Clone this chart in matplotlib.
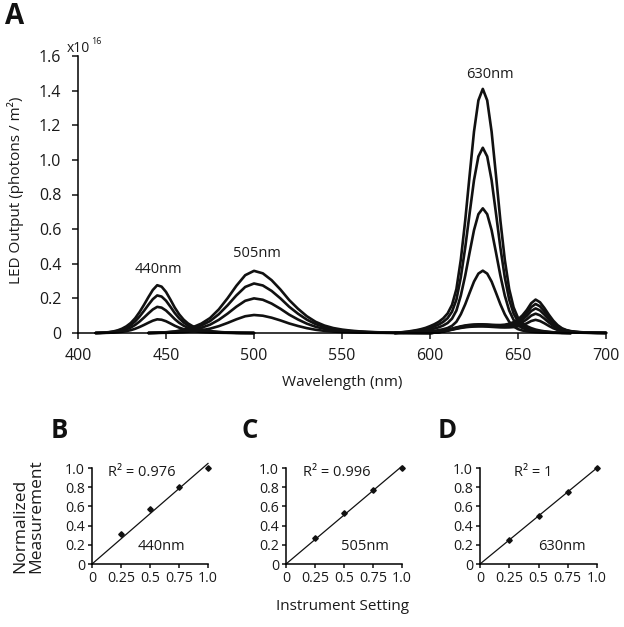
import numpy as np
import matplotlib
matplotlib.use("Agg")
import matplotlib.pyplot as plt

plt.rcParams['font.family'] = ['Open Sans', 'DejaVu Sans']

# ---------------- data: panel A (spectra, units of 1e16 photons/m^2) ----------------
wl_440 = np.arange(410, 500.01, 2.5)
shape_440 = [0.0, 0.004, 0.009, 0.018, 0.032, 0.055, 0.09, 0.14, 0.21, 0.31, 0.44,
             0.59, 0.75, 0.90, 1.0, 0.97, 0.86, 0.70, 0.53, 0.39, 0.28, 0.20, 0.145,
             0.105, 0.077, 0.056, 0.041, 0.030, 0.022, 0.016, 0.011, 0.008, 0.005,
             0.003, 0.002, 0.001, 0.0]
amp_440 = [0.276, 0.217, 0.151, 0.079]

wl_505 = np.arange(440, 600.01, 5)
shape_505 = [0.0, 0.005, 0.012, 0.025, 0.05, 0.09, 0.15, 0.24, 0.38, 0.56, 0.76, 0.93,
             1.0, 0.96, 0.85, 0.70, 0.53, 0.39, 0.27, 0.18, 0.12, 0.08, 0.055, 0.038,
             0.026, 0.018, 0.012, 0.008, 0.005, 0.003, 0.002, 0.001, 0.0]
amp_505 = [0.359, 0.286, 0.200, 0.104]

wl_630 = np.arange(580, 680.01, 2.5)
shape_630 = [0.0, 0.002, 0.004, 0.006, 0.009, 0.012, 0.016, 0.021, 0.028, 0.036, 0.046,
             0.06, 0.08, 0.115, 0.18, 0.30, 0.46, 0.645, 0.825, 0.953, 1.0, 0.953,
             0.825, 0.645, 0.46, 0.30, 0.18, 0.105, 0.062, 0.04, 0.028, 0.02, 0.014,
             0.01, 0.007, 0.005, 0.003, 0.002, 0.001, 0.0005, 0.0]
amp_630 = [1.41, 1.07, 0.72, 0.36]

wl_red = np.arange(600, 700.01, 2.5)
shape_660 = [0, 0, 0, 0, 0, 0, 0, 0, 0, 0, 0, 0, 0.0, 0.003, 0.008, 0.018, 0.035,
             0.065, 0.115, 0.19, 0.30, 0.45, 0.64, 0.87, 1.0, 0.93, 0.76, 0.56, 0.38,
             0.24, 0.145, 0.09, 0.058, 0.04, 0.028, 0.02, 0.014, 0.01, 0.007, 0.005,
             0.003]
shape_bump = [0.0, 0.05, 0.12, 0.22, 0.35, 0.5, 0.64, 0.77, 0.87, 0.94, 0.98, 1.0, 1.0,
              0.97, 0.92, 0.86, 0.79, 0.72, 0.64, 0.55, 0.46, 0.37, 0.29, 0.22, 0.16,
              0.11, 0.075, 0.05, 0.03, 0.018, 0.01, 0.006, 0.003, 0, 0, 0, 0, 0, 0, 0, 0]
amp_660 = [0.185, 0.16, 0.135, 0.105, 0.07]
amp_bump = [0.05, 0.047, 0.044, 0.041, 0.038]

# ---------------- data: panels B-D (calibration) ----------------
setting = [0.25, 0.5, 0.75, 1.0]
meas_440 = [0.31, 0.573, 0.80, 1.0]
meas_505 = [0.274, 0.528, 0.771, 1.0]
meas_630 = [0.25, 0.50, 0.753, 1.0]
r2_labels = ["R² = 0.976", "R² = 0.996", "R² = 1"]
led_labels = ["440nm", "505nm", "630nm"]
x_ticks_small = [0, 0.25, 0.5, 0.75, 1.0]
x_ticklabels_small = ["0", "0.25", "0.5", "0.75", "1.0"]
y_ticks_small = [0, 0.2, 0.4, 0.6, 0.8, 1.0]
y_ticklabels_small = ["0", "0.2", "0.4", "0.6", "0.8", "1.0"]
y_ticks_main = [0, 0.2, 0.4, 0.6, 0.8, 1.0, 1.2, 1.4, 1.6]
y_ticklabels_main = ["0", "0.2", "0.4", "0.6", "0.8", "1.0", "1.2", "1.4", "1.6"]
x_ticks_main = [400, 450, 500, 550, 600, 650, 700]

W, H = 624, 627
fig = plt.figure(figsize=(W / 100, H / 100), dpi=100)

def fx(px):
    return px / W

def fy(py):
    return 1 - py / H

LW = 1.9
SPW = 1.1
TXT = '#1a1a1a'

# ---------------- panel A ----------------
ax = fig.add_axes([fx(78), fy(333), fx(606) - fx(78), fy(56) - fy(333)])
for a in amp_440:
    ax.plot(wl_440, a * np.array(shape_440), color='#111111', lw=LW, clip_on=False,
            solid_capstyle='round')
for a in amp_505:
    ax.plot(wl_505, a * np.array(shape_505), color='#111111', lw=LW, clip_on=False,
            solid_capstyle='round')
for a in amp_630:
    ax.plot(wl_630, a * np.array(shape_630), color='#111111', lw=LW, clip_on=False,
            solid_capstyle='round')
for a, b in zip(amp_660, amp_bump):
    ax.plot(wl_red, a * np.array(shape_660) + b * np.array(shape_bump), color='#111111',
            lw=LW, clip_on=False, solid_capstyle='round')

ax.set_xlim(400, 700)
ax.set_ylim(0, 1.6)
ax.set_xticks(x_ticks_main)
ax.set_yticks(y_ticks_main)
ax.set_yticklabels(y_ticklabels_main)
for s in ['top', 'right']:
    ax.spines[s].set_visible(False)
for s in ['left', 'bottom']:
    ax.spines[s].set_linewidth(SPW)
ax.tick_params(axis='both', direction='out', length=4, width=SPW, labelsize=11.5,
               color='#111111', labelcolor=TXT)
ax.tick_params(axis='y', pad=8)
ax.tick_params(axis='x', pad=7)

ax.text(445.7, 0.368, "440nm", ha='center', va='center', fontsize=10.5, color=TXT)
ax.text(501.7, 0.457, "505nm", ha='center', va='center', fontsize=10.5, color=TXT)
ax.text(634, 1.496, "630nm", ha='center', va='center', fontsize=10.5, color=TXT)

fig.text(fx(67), fy(48), "x10", fontsize=10, ha='left', va='center', color=TXT)
fig.text(fx(91), fy(41), "16", fontsize=6.5, ha='left', va='center', color=TXT)

fig.text(fx(16), fy(190), "LED Output (photons / m²)", rotation=90, ha='center',
         va='center', fontsize=11, color=TXT)
fig.text(fx(342), fy(382), "Wavelength (nm)", ha='center', va='center', fontsize=11,
         color=TXT)
fig.text(fx(15), fy(16), "A", ha='center', va='center', fontsize=20, fontweight='bold',
         color='#111111')

# ---------------- panels B-D ----------------
lefts = [92, 286, 480]
widths = [116, 116, 117]
meas = [meas_440, meas_505, meas_630]
letters = ["B", "C", "D"]
letter_pos = [(59.5, 431), (250, 430), (447, 431)]
r2_x = [0.427, 0.435, 0.453]
led_x = [0.595, 0.68, 0.697]

for i in range(3):
    axs = fig.add_axes([fx(lefts[i]), fy(564), widths[i] / W, 96 / H])
    m = np.array(meas[i])
    s = np.array(setting)
    slope = np.sum(s * m) / np.sum(s * s)
    axs.plot([0, 1.0], [0, slope * 1.0], color='#111111', lw=0.9, clip_on=False)
    axs.plot(s, m, linestyle='none', marker='D', markersize=2.8, color='#111111',
             clip_on=False)
    axs.set_xlim(0, 1.0)
    axs.set_ylim(0, 1.0)
    axs.set_xticks(x_ticks_small)
    axs.set_xticklabels(x_ticklabels_small)
    axs.set_yticks(y_ticks_small)
    axs.set_yticklabels(y_ticklabels_small)
    for sp in ['top', 'right']:
        axs.spines[sp].set_visible(False)
    for sp in ['left', 'bottom']:
        axs.spines[sp].set_linewidth(SPW)
    axs.tick_params(axis='both', direction='out', length=3, width=SPW, labelsize=10.2,
                    pad=2, color='#111111', labelcolor=TXT)
    axs.text(r2_x[i], 0.958, r2_labels[i], transform=axs.transAxes, ha='center',
             va='center', fontsize=10.5, color=TXT)
    axs.text(led_x[i], 0.1875, led_labels[i], transform=axs.transAxes, ha='center',
             va='center', fontsize=10.5, color=TXT)
    fig.text(fx(letter_pos[i][0]), fy(letter_pos[i][1]), letters[i], ha='center',
             va='center', fontsize=18.5, fontweight='bold', color='#111111')

fig.text(fx(28), fy(516), "Normalized\nMeasurement", rotation=90, ha='center',
         va='center', multialignment='left', fontsize=12.5, color=TXT,
         linespacing=1.0)
fig.text(fx(343), fy(606), "Instrument Setting", ha='center', va='center', fontsize=11,
         color=TXT)

fig.savefig("out.png", dpi=100)
